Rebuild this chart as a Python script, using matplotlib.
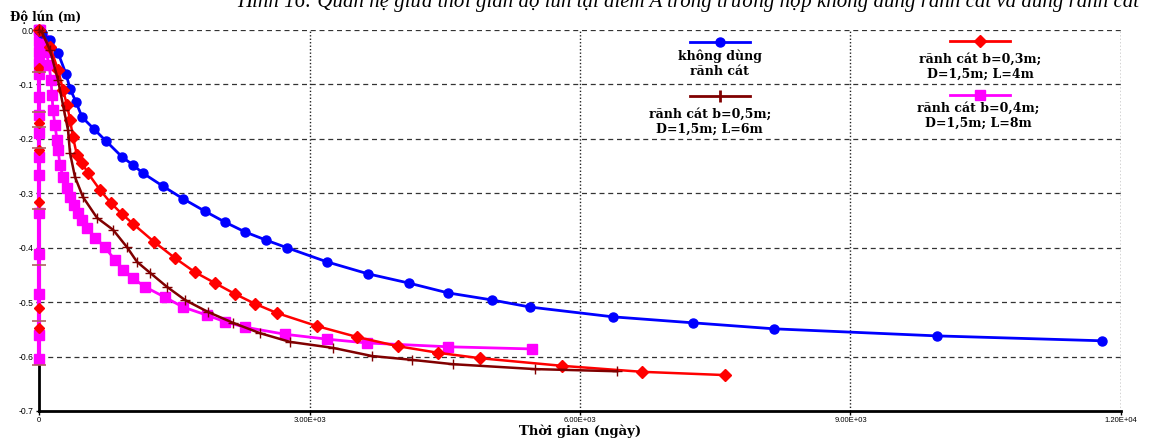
import matplotlib
matplotlib.use("Agg")
import matplotlib.pyplot as plt
import numpy as np

# ---------------- data ----------------
blue_x = [0, 33, 122, 211, 300, 344, 410, 477, 610, 743, 920, 1042, 1153, 1375, 1597, 1841, 2063,
          2285, 2518, 2750, 3194, 3649, 4103, 4536, 5024, 5445, 6366, 7253, 8151, 9959, 11789]
blue_y = [0, -0.006, -0.018, -0.042, -0.081, -0.108, -0.132, -0.160, -0.182, -0.204, -0.233, -0.248,
          -0.263, -0.287, -0.310, -0.333, -0.353, -0.371, -0.386, -0.400, -0.426, -0.448, -0.465,
          -0.483, -0.496, -0.509, -0.527, -0.538, -0.549, -0.562, -0.571]

red_x = [0, 122, 211, 266, 311, 344, 377, 421, 477, 543, 677, 798, 920, 1042, 1275, 1508, 1730, 1952,
         2174, 2395, 2639, 3083, 3527, 3981, 4425, 4891, 5800, 6687, 7608]
red_y = [0, -0.031, -0.073, -0.110, -0.138, -0.165, -0.197, -0.230, -0.244, -0.263, -0.294, -0.318,
         -0.338, -0.356, -0.389, -0.419, -0.445, -0.465, -0.485, -0.503, -0.520, -0.544, -0.564,
         -0.581, -0.593, -0.603, -0.617, -0.628, -0.634]

brown_x = [0, 33, 122, 211, 277, 322, 344, 399, 488, 643, 821, 976, 1087, 1231, 1420, 1619, 1874,
           2152, 2451, 2784, 3260, 3693, 4136, 4591, 5500, 6410]
brown_y = [0, -0.004, -0.037, -0.092, -0.147, -0.184, -0.226, -0.270, -0.307, -0.345, -0.367, -0.399,
           -0.426, -0.446, -0.472, -0.496, -0.518, -0.538, -0.557, -0.573, -0.584, -0.599, -0.606,
           -0.614, -0.623, -0.627]

mag_x = [0, 11, 44, 78, 111, 133, 144, 155, 177, 200, 211, 233, 266, 311, 344, 388, 432, 477, 532,
         621, 732, 843, 932, 1042, 1176, 1397, 1597, 1863, 2063, 2285, 2728, 3194, 3638, 4536, 5468]
mag_y = [0, 0, -0.018, -0.040, -0.064, -0.092, -0.119, -0.147, -0.175, -0.202, -0.220, -0.248, -0.270,
         -0.290, -0.307, -0.322, -0.336, -0.349, -0.364, -0.382, -0.399, -0.423, -0.441, -0.456,
         -0.472, -0.491, -0.509, -0.524, -0.536, -0.546, -0.559, -0.568, -0.575, -0.582, -0.586]

# points that the original chart plotted at time 0
mag0_y = [0, -0.02, -0.04, -0.06, -0.08, -0.123, -0.156, -0.189, -0.233, -0.266, -0.336, -0.412,
          -0.485, -0.560, -0.604]
red0_y = [-0.070, -0.171, -0.220, -0.316, -0.511, -0.548]
brown0_y = [-0.077, -0.151, -0.178, -0.217, -0.329, -0.432, -0.535, -0.616]

x_ticks = [0, 3000, 6000, 9000, 12000]
x_labels = ["0", "3.00E+03", "6.00E+03", "9.00E+03", "1.20E+04"]
y_ticks = [0.0, -0.1, -0.2, -0.3, -0.4, -0.5, -0.6, -0.7]
y_labels = ["0.0", "-0.1", "-0.2", "-0.3", "-0.4", "-0.5", "-0.6", "-0.7"]

labels = ["không dùng\nrãnh cát", "rãnh cát b=0,3m;\nD=1,5m; L=4m",
          "rãnh cát b=0,5m;\nD=1,5m; L=6m", "rãnh cát b=0,4m;\nD=1,5m; L=8m"]
title = ("Hình 16: Quan hệ giữa thời gian độ lún tại điểm A trong trường hợp "
         "không dùng rãnh cát và dùng rãnh cát")

BLUE, RED, BROWN, MAG = "#0000ff", "#ff0000", "#800000", "#ff00ff"

# ---------------- figure ----------------
fig = plt.figure(figsize=(11.53, 4.38), dpi=100)
ax = fig.add_axes([39/1153, 1-411/438, (1121-39)/1153, (411-30)/438])
ax.set_xlim(0, 12000)
ax.set_ylim(-0.7, 0.0)

# grid
for yv in y_ticks[:-1]:
    ax.axhline(yv, color="#333333", lw=0.9, ls=(0, (4, 3)), zorder=1)
for xv in x_ticks[1:]:
    ax.axvline(xv, color="#222222", lw=1.0, ls=(0, (1, 1.5)), zorder=1)

# artifact series at time 0
ax.plot([0]*len(mag0_y), mag0_y, color=MAG, lw=3, marker="s", ms=7, mec=MAG, zorder=4, clip_on=False)
ax.plot([0]*len(red0_y), red0_y, ls="none", marker="D", ms=5, color=RED, zorder=5, clip_on=False)
ax.plot([0]*len(brown0_y), brown0_y, ls="none", marker="_", ms=10, mew=1.2, color="#b06060", zorder=5,
        clip_on=False)

# main series
ax.plot(blue_x, blue_y, color=BLUE, lw=2, marker="o", ms=6.5, zorder=6, clip_on=False)
ax.plot(red_x, red_y, color=RED, lw=1.8, marker="D", ms=6, zorder=6, clip_on=False)
ax.plot(brown_x, brown_y, color=BROWN, lw=1.8, marker="+", ms=7, mew=1.0, zorder=6, clip_on=False)
ax.plot(mag_x, mag_y, color=MAG, lw=2, marker="s", ms=7.5, zorder=5, clip_on=False)

# spines / ticks
for s in ["top", "right"]:
    ax.spines[s].set_visible(False)
ax.spines["left"].set_linewidth(2)
ax.spines["bottom"].set_linewidth(2)
ax.spines["left"].set_zorder(3)
ax.set_xticks(x_ticks)
ax.set_xticklabels(x_labels, fontsize=5.5, family="Liberation Sans")
ax.set_yticks(y_ticks)
ax.set_yticklabels(y_labels, fontsize=6.2, family="Liberation Sans")
ax.tick_params(axis="x", length=3, width=1, pad=1)
ax.tick_params(axis="y", length=2, width=1, pad=2)

# axis titles
fig.text(10/1153, 1-17/438, "Độ lún (m)", fontsize=8.5, fontweight="bold",
         family="DejaVu Serif", ha="left", va="center")
fig.text(580/1153, 1-431/438, "Thời gian (ngày)", fontsize=9.5, fontweight="bold",
         family="DejaVu Serif", ha="center", va="center")
fig.text(688/1153, 1-7/438, title, fontsize=15, style="italic",
         family="Liberation Serif", ha="center", va="baseline")

# legend (manual 2x2 layout)
entries = [
    (BLUE, "o", 6.5, 0.602, 0.657, 0.969, 0.629, 0.912),
    (RED, "D", 6, 0.842, 0.897, 0.971, 0.870, 0.904),
    (BROWN, "|", 8, 0.602, 0.657, 0.827, 0.620, 0.760),
    (MAG, "s", 7.5, 0.842, 0.897, 0.829, 0.868, 0.774),
]
for (c, m, ms, x0, x1, yl, xt, yt), lab in zip(entries, labels):
    ax.plot([x0, x1], [yl, yl], color=c, lw=2, transform=ax.transAxes, clip_on=False, zorder=7)
    ax.plot([(x0+x1)/2], [yl], color=c, marker=m, ms=ms, mew=2 if m == "|" else 1,
            transform=ax.transAxes, clip_on=False, zorder=7)
    ax.text(xt, yt, lab, transform=ax.transAxes, ha="center", va="center", fontsize=9,
            fontweight="bold", family="DejaVu Serif", linespacing=1.2, zorder=7)

fig.savefig("out.png", dpi=100)
